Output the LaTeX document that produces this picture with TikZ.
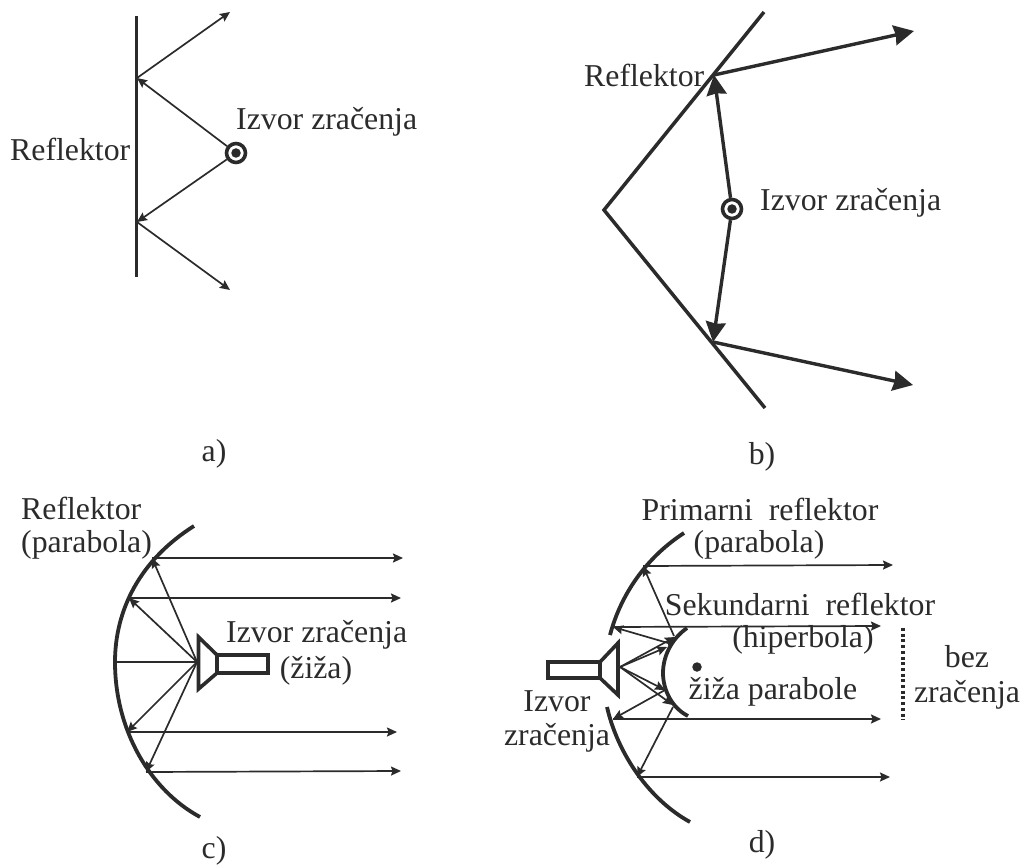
\documentclass[tikz,border=0pt]{standalone}
\usepackage{fontspec}
\setmainfont{Liberation Serif}
\usetikzlibrary{arrows.meta}
\definecolor{ink}{HTML}{2B2B2B}
\tikzset{
  lbl/.style={inner sep=0pt,text=ink,align=center,font=\fontsize{31.8}{37}\selectfont},
  mirror/.style={draw=ink,line width=3.8pt,line cap=butt},
  mirrorb/.style={draw=ink,line width=3.5pt,line join=miter},
  ray/.style={draw=ink,line width=1.7pt,-{Stealth[length=10pt,width=9pt,inset=1.5pt]}},
  plainray/.style={draw=ink,line width=1.7pt},
  rayb/.style={draw=ink,line width=3.4pt,-{Stealth[length=20pt,width=20pt,inset=1.5pt]}},
  horn/.style={draw=ink,line width=3.6pt,fill=white,line join=miter},
  srcring/.style={circle,draw=ink,line width=3.6pt,fill=white,minimum size=19pt,inner sep=0pt},
  srcdot/.style={circle,fill=ink,minimum size=9.5pt,inner sep=0pt},
}
\begin{document}
\begin{tikzpicture}[x=1pt,y=-1pt]
\useasboundingbox (0,0) rectangle (1025,866);
% ---------- a
\coordinate (a1) at (136.5,16);
\coordinate (a2) at (136.5,277);
\coordinate (aU) at (137,78);
\coordinate (aD) at (137,222);
\coordinate (aUe) at (230,12);
\coordinate (aDe) at (230,290);
\path[mirror] (a1) -- (a2);
\node[srcring] (aS) at (236,153) {};
\node[srcdot] (aSd) at (236,153) {};
\path[ray] (aS) -- (aU);
\path[ray] (aS) -- (aD);
\path[ray] (aU) -- (aUe);
\path[ray] (aD) -- (aDe);
\node[lbl,anchor=west] (aR) at (10,149) {Reflektor};
\node[lbl,anchor=west] (aI) at (236,122) {Izvor zračenja};
\node[lbl] (aL) at (214,454) {a)};
% ---------- b
\coordinate (b0) at (604,210);
\coordinate (b1) at (764,12);
\coordinate (b2) at (765,408);
\coordinate (bU) at (714,75);
\coordinate (bD) at (713,342);
\coordinate (bUe) at (914,31);
\coordinate (bDe) at (913,385);
\path[mirrorb] (b1) -- (b0) -- (b2);
\node[srcring] (bS) at (732,209) {};
\node[srcdot] (bSd) at (732,209) {};
\path[rayb] (bS) -- (bU);
\path[rayb] (bS) -- (bD);
\path[rayb] (bU) -- (bUe);
\path[rayb] (bD) -- (bDe);
\node[lbl,anchor=west] (bR) at (584,75) {Reflektor};
\node[lbl,anchor=west] (bI) at (760,203) {Izvor zračenja};
\node[lbl] (bL) at (762,457) {b)};
% ---------- c
\coordinate (c1) at (152,558);
\coordinate (c2) at (129,598);
\coordinate (c3) at (115,662);
\coordinate (c4) at (127,732);
\coordinate (c5) at (146,772);
\coordinate (cF) at (197,662);
\coordinate (c1e) at (403,558);
\coordinate (c2e) at (401,598);
\coordinate (c4e) at (397,732);
\coordinate (c5e) at (401,771);
\draw[mirror] (194,526) .. controls (140,560) and (115,610) .. (115,662) .. controls (115,730) and (150,790) .. (200,817);
\path[ray] (cF) -- (c1);
\path[ray] (cF) -- (c2);
\path[plainray] (cF) -- (c3);
\path[ray] (cF) -- (c4);
\path[ray] (cF) -- (c5);
\path[ray] (c1) -- (c1e);
\path[ray] (c2) -- (c2e);
\path[ray] (c4) -- (c4e);
\path[ray] (c5) -- (c5e);
\draw[horn] (198.5,637) -- (217,655) -- (217,673) -- (198.5,689) -- cycle;
\draw[horn] (217,655) rectangle (268,673);
\node[lbl,anchor=west] (cR) at (21,508) {Reflektor};
\node[lbl,anchor=west] (cP) at (21,545) {(parabola)};
\node[lbl,anchor=west] (cI) at (226,635) {Izvor zračenja};
\node[lbl] (cZ) at (316,671) {(žiža)};
\node[lbl] (cL) at (214,851) {c)};
% ---------- d
\coordinate (d1) at (643,566);
\coordinate (d2) at (613,627);
\coordinate (d3) at (613,719);
\coordinate (d4) at (637,777);
\coordinate (d1e) at (893,565);
\coordinate (d2e) at (881,626);
\coordinate (d3e) at (881,719);
\coordinate (d4e) at (890,777);
\coordinate (dH) at (620,667);
\coordinate (s1) at (675,637);
\coordinate (s2) at (667,647);
\coordinate (s3) at (665,690);
\coordinate (s4) at (673,705);
\coordinate (o1) at (674,636);
\coordinate (o2) at (668,643);
\coordinate (o3) at (665,690);
\coordinate (o4) at (673,707);
\draw[mirror] (684,533) .. controls (650,555) and (622,590) .. (610,635);
\draw[mirror] (607,707) .. controls (618,755) and (650,800) .. (690,822);
\draw[mirror] (687,628) .. controls (670,640) and (663,658) .. (663,673) .. controls (663,690) and (672,708) .. (688,716);
\path[ray] (dH) -- (s1);
\path[ray] (dH) -- (s2);
\path[ray] (dH) -- (s3);
\path[ray] (dH) -- (s4);
\path[ray] (o1) -- (d1);
\path[ray] (o2) -- (d2);
\path[ray] (o3) -- (d3);
\path[ray] (o4) -- (d4);
\path[ray] (d1) -- (d1e);
\path[ray] (d2) -- (d2e);
\path[ray] (d3) -- (d3e);
\path[ray] (d4) -- (d4e);
\draw[horn] (618,643) -- (600,662) -- (600,678) -- (618,695) -- cycle;
\draw[horn] (548,662) rectangle (600,678);
\node[circle,fill=ink,minimum size=9.5pt,inner sep=0pt] (dF) at (697,667) {};
\coordinate (q1) at (903,628);
\coordinate (q2) at (903,720);
\draw[ink,line width=4pt,dash pattern=on 3pt off 2.7pt] (q1) -- (q2);
\node[lbl] (dP) at (760,509) {Primarni\ \ reflektor};
\node[lbl] (dPp) at (759,545) {(parabola)};
\node[lbl] (dS) at (800,604) {Sekundarni\ \ reflektor};
\node[lbl] (dSp) at (803,640) {(hiperbola)};
\node[lbl] (dZ) at (773,692) {žiža parabole};
\node[lbl] (dI) at (557,701) {Izvor};
\node[lbl] (dIz) at (557,738) {zračenja};
\node[lbl] (dB) at (967,657) {bez};
\node[lbl] (dBz) at (967,695) {zračenja};
\node[lbl] (dL) at (762,845) {d)};
\end{tikzpicture}
\end{document}
